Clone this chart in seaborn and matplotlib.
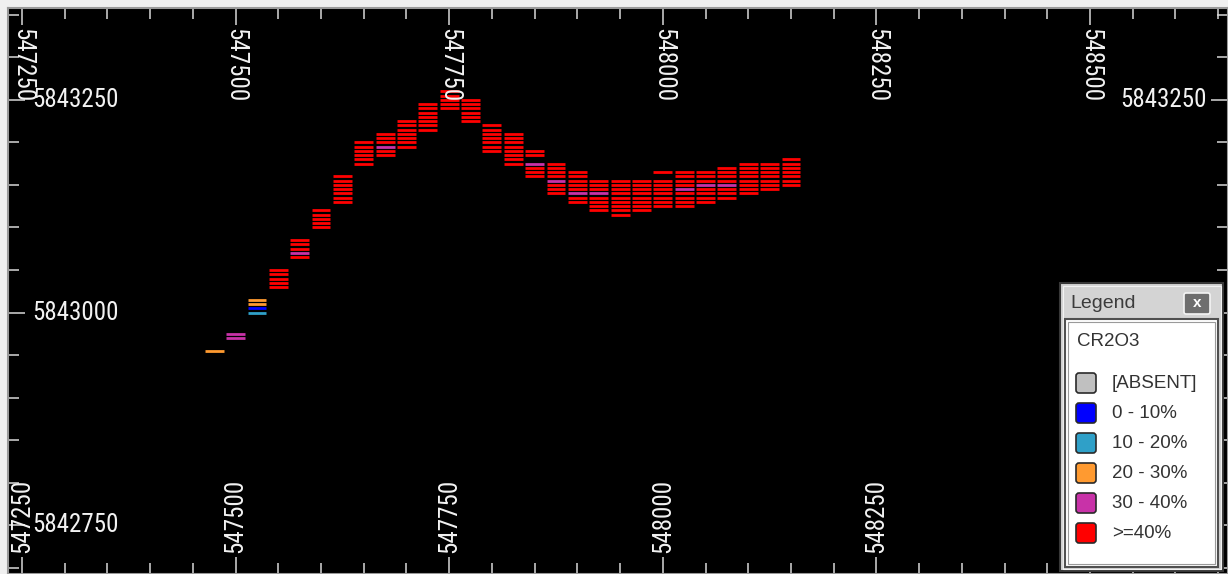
import matplotlib
matplotlib.use('Agg')
import matplotlib.pyplot as plt
import seaborn as sns
import pandas as pd
from matplotlib import font_manager
from matplotlib.patches import Rectangle, FancyBboxPatch

# grade classes (legend order) and their colours
classes = ['[ABSENT]', '0 - 10%', '10 - 20%', '20 - 30%', '30 - 40%', '>=40%']
class_colors = ['#c0c0c0', '#0000ff', '#2fa0c8', '#ff9a30', '#c832a8', '#ff0000']

# drillhole columns: easting, sample northings (top to bottom), grade class index per sample
hole_east = [547475, 547500, 547525, 547550, 547575, 547600, 547625, 547650,
             547675, 547700, 547725, 547750, 547775, 547800, 547825, 547850,
             547875, 547900, 547925, 547950, 547975, 548000, 548025, 548050,
             548075, 548100, 548125, 548150]
hole_north = [
    [5842955],
    [5842975, 5842970],
    [5843015, 5843010, 5843005, 5843000],
    [5843050, 5843045, 5843040, 5843035, 5843030],
    [5843085, 5843080, 5843075, 5843070, 5843065],
    [5843120, 5843115, 5843110, 5843105, 5843100],
    [5843160, 5843155, 5843150, 5843145, 5843140, 5843135, 5843130],
    [5843200, 5843195, 5843190, 5843185, 5843180, 5843175],
    [5843210, 5843205, 5843200, 5843195, 5843190, 5843185],
    [5843225, 5843220, 5843215, 5843210, 5843205, 5843200, 5843195],
    [5843245, 5843240, 5843235, 5843230, 5843225, 5843220, 5843215],
    [5843260, 5843255, 5843250, 5843245, 5843240],
    [5843250, 5843245, 5843240, 5843235, 5843230, 5843225],
    [5843220, 5843215, 5843210, 5843205, 5843200, 5843195, 5843190],
    [5843210, 5843205, 5843200, 5843195, 5843190, 5843185, 5843180, 5843175],
    [5843190, 5843185, 5843175, 5843170, 5843165, 5843160],
    [5843175, 5843170, 5843165, 5843160, 5843155, 5843150, 5843145, 5843140],
    [5843165, 5843160, 5843155, 5843150, 5843145, 5843140, 5843135, 5843130],
    [5843155, 5843150, 5843145, 5843140, 5843135, 5843130, 5843125, 5843120],
    [5843155, 5843150, 5843145, 5843140, 5843135, 5843130, 5843125, 5843120, 5843115],
    [5843155, 5843150, 5843145, 5843140, 5843135, 5843130, 5843125, 5843120],
    [5843165, 5843155, 5843150, 5843145, 5843140, 5843135, 5843130, 5843125],
    [5843165, 5843160, 5843155, 5843150, 5843145, 5843140, 5843135, 5843130, 5843125],
    [5843165, 5843160, 5843155, 5843150, 5843145, 5843140, 5843135, 5843130],
    [5843170, 5843165, 5843160, 5843155, 5843150, 5843145, 5843140, 5843135],
    [5843175, 5843170, 5843165, 5843160, 5843155, 5843150, 5843145, 5843140],
    [5843175, 5843170, 5843165, 5843160, 5843155, 5843150, 5843145],
    [5843180, 5843175, 5843170, 5843165, 5843160, 5843155, 5843150],
]
hole_grade = ["3", "44", "3312", "55555", "55545", "55555", "5555555", "555555",
              "555455", "5555555", "5555555", "55555", "555555", "5555555",
              "55555555", "554555", "55554555", "55555455", "55545555",
              "555555555", "55555555", "55555555", "555545555", "55545555",
              "55554555", "55555555", "5555555", "5555555"]

x_major = [547250, 547500, 547750, 548000, 548250, 548500]
y_major = [5842750, 5843000, 5843250]

rows = []
for e, norths, codes in zip(hole_east, hole_north, hole_grade):
    for n, c in zip(norths, codes):
        rows.append({'easting': e, 'northing': n, 'grade': classes[int(c)]})
df = pd.DataFrame(rows)

sns.set_theme(style='ticks')
plt.rcParams['font.family'] = ['Liberation Sans', 'DejaVu Sans']

# narrow face for the coordinate labels, if one is installed
installed = {f.name for f in font_manager.fontManager.ttflist}
narrow = next((f for f in ['Liberation Sans Narrow', 'Roboto Condensed', 'Open Sans Condensed',
                           'DejaVu Sans Condensed'] if f in installed), None)
if narrow in ('Liberation Sans Narrow', 'Roboto Condensed', 'Open Sans Condensed'):
    lab_font, lab_size = [narrow, 'Liberation Sans'], 18
else:
    lab_font, lab_size = ['Liberation Sans', 'DejaVu Sans'], 15.5

W, H = 1228, 574
fig = plt.figure(figsize=(W / 100, H / 100), dpi=100, facecolor='#f0f0f0')
ax = fig.add_axes([8 / W, 0, 1220 / W, 566 / H])
ax.set_facecolor('black')

sns.scatterplot(data=df, x='easting', y='northing', hue='grade',
                palette=dict(zip(classes, class_colors)), marker='_',
                s=185, linewidth=2.0, legend=False, ax=ax)

ax.set_xlim(547233.6, 548661.5)
ax.set_ylim(5842692.4, 5843358.2)
ax.set_xlabel('')
ax.set_ylabel('')
ax.set_xticks(x_major)
ax.set_yticks(y_major)
ax.set_xticks(range(547250, 548651, 50), minor=True)
ax.set_yticks(range(5842700, 5843351, 50), minor=True)
ax.tick_params(which='both', direction='in', top=True, right=True, bottom=True, left=True,
               color='#d8d8d8', width=1.1, labelbottom=False, labelleft=False)
ax.tick_params(which='major', length=12)
ax.tick_params(which='minor', length=8)
for s in ax.spines.values():
    s.set_color('#9a9a9a')
    s.set_linewidth(1.5)

# coordinate labels drawn inside the frame (those under the legend window are not shown)
lab_kw = dict(color='#f2f2f2', fontsize=lab_size, family=lab_font)
xt = ax.get_xaxis_transform()
yt = ax.get_yaxis_transform()
for e in x_major:
    ax.text(e, 1 - 20 / 566, str(e), transform=xt, rotation=270, ha='center', va='top', **lab_kw)
    if e < 548500:
        ax.text(e, 21 / 566, str(e), transform=xt, rotation=90, ha='center', va='bottom', **lab_kw)
for n in y_major:
    ax.text(24 / 1220, n, str(n), transform=yt, ha='left', va='center', **lab_kw)
ax.text(1 - 21 / 1220, y_major[-1], str(y_major[-1]), transform=yt, ha='right', va='center', **lab_kw)

# floating legend window (pixel coordinates)
lg = fig.add_axes([0, 0, 1, 1])
lg.set_xlim(0, W)
lg.set_ylim(H, 0)
lg.axis('off')
lg.patch.set_alpha(0)
lg.add_patch(Rectangle((1060, 283), 163, 288, facecolor='#d4d4d4', edgecolor='#383838', lw=1.5))
lg.add_patch(Rectangle((1062.5, 285.5), 158, 283, fill=False, edgecolor='#f2f2f2', lw=0.8))
lg.text(1070, 304, 'Legend', fontsize=14, color='#3c3c3c', va='center', ha='left')
lg.add_patch(FancyBboxPatch((1184, 293), 26, 21, boxstyle='round,pad=0,rounding_size=2',
                            facecolor='#6e6e6e', edgecolor='#f4f4f4', lw=1.2))
lg.text(1197, 303, 'x', fontsize=11, color='white', fontweight='bold', ha='center', va='center')
lg.add_patch(Rectangle((1065, 319), 153, 248, facecolor='white', edgecolor='#505050', lw=1.5))
lg.add_patch(Rectangle((1068, 322), 147, 242, fill=False, edgecolor='#9a9a9a', lw=0.8))
lg.text(1077, 342, 'CR2O3', fontsize=13.5, color='#333333', va='center', ha='left')
for i, (lab, col) in enumerate(zip(classes, class_colors)):
    yc = 383 + 30 * i
    lg.add_patch(FancyBboxPatch((1076, yc - 10), 20, 20, boxstyle='round,pad=0,rounding_size=3',
                                facecolor=col, edgecolor='#2a2a2a', lw=1.2))
    lg.text(1112, yc, lab, fontsize=13.5, color='#333333', va='center', ha='left')

fig.savefig('out.png', dpi=100, facecolor=fig.get_facecolor())
